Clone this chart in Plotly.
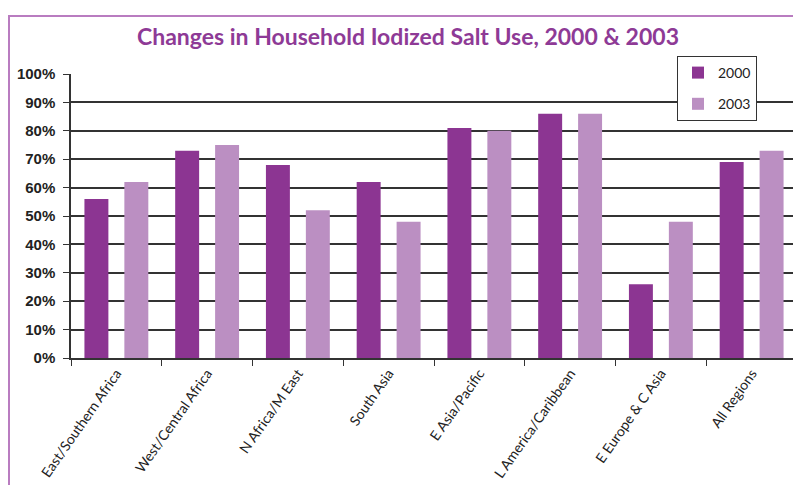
import plotly.graph_objects as go

categories = ["East/Southern Africa", "West/Central Africa", "N Africa/M East", "South Asia",
              "E Asia/Pacific", "L America/Caribbean", "E Europe & C Asia", "All Regions"]
values_2000 = [56, 73, 68, 62, 81, 86, 26, 69]
values_2003 = [62, 75, 52, 48, 80, 86, 48, 73]
y_ticks = [0, 10, 20, 30, 40, 50, 60, 70, 80, 90, 100]
y_tick_labels = [f"{v}%" for v in y_ticks]

DARK = "#8C3592"
LIGHT = "#BB8FC2"
FRAME = "#B97CC0"
TEXT_FONT = "Lato"

fig = go.Figure()
fig.add_trace(go.Bar(name="2000", x=categories, y=values_2000, marker=dict(color=DARK, line=dict(width=0)),
                     legendgroup="a"))
fig.add_trace(go.Bar(name="2003", x=categories, y=values_2003, marker=dict(color=LIGHT, line=dict(width=0)),
                     legendgroup="b"))

# page body has an 8px default margin; work in figure coordinates
OFF = 8
W, H = 801 - OFF, 485 - OFF
L, T = 71 - OFF, 74 - OFF
R = W - (797 - OFF)
B = H - (358 - OFF)
pw, ph = W - L - R, H - T - B

def px_x(x):
    return (x - OFF - L) / pw

def px_y(y):
    return (H - B - (y - OFF)) / ph

fig.update_layout(
    width=W, height=H,
    margin=dict(l=L, r=R, t=T, b=B, autoexpand=False),
    paper_bgcolor="white", plot_bgcolor="white",
    barmode="group", bargap=0.12, bargroupgap=0.4,
    title=dict(text="<b>Changes in Household Iodized Salt Use, 2000 &amp; 2003</b>",
               x=(408 - OFF) / W, xanchor="center", y=1 - (37 - OFF) / H, yanchor="middle",
               font=dict(family=TEXT_FONT, size=23, color="#8E3A96")),
    legend=dict(x=px_x(677), y=px_y(56), xanchor="left", yanchor="top",
                bgcolor="white", bordercolor="#333333", borderwidth=1,
                font=dict(family=TEXT_FONT, size=14, color="#222222"),
                tracegroupgap=10, traceorder="grouped", itemwidth=30),
    showlegend=True,
    shapes=[dict(type="rect", xref="paper", yref="paper",
                 x0=px_x(9), x1=px_x(806), y0=px_y(16), y1=px_y(495),
                 line=dict(color=FRAME, width=2), fillcolor="rgba(0,0,0,0)", layer="below")],
)
fig.update_xaxes(
    type="category", showgrid=False, showline=True, linecolor="#333333", linewidth=1.5,
    mirror=False, ticks="outside", tickson="boundaries", ticklen=6, tickcolor="#333333",
    tickangle=-55, tickfont=dict(family=TEXT_FONT, size=14, color="#222222"),
    automargin=False,
)
fig.update_yaxes(
    range=[0, 100], tickvals=y_ticks, ticktext=y_tick_labels,
    showgrid=True, gridcolor="#333333", gridwidth=1.5,
    showline=True, linecolor="#333333", linewidth=1.5, mirror=True,
    ticks="outside", ticklen=6, tickcolor="#333333", ticklabelstandoff=5,
    tickfont=dict(family="Liberation Sans", size=15, color="#222222", weight="bold"),
    zeroline=False, automargin=False,
)
fig.write_html("out.html")
